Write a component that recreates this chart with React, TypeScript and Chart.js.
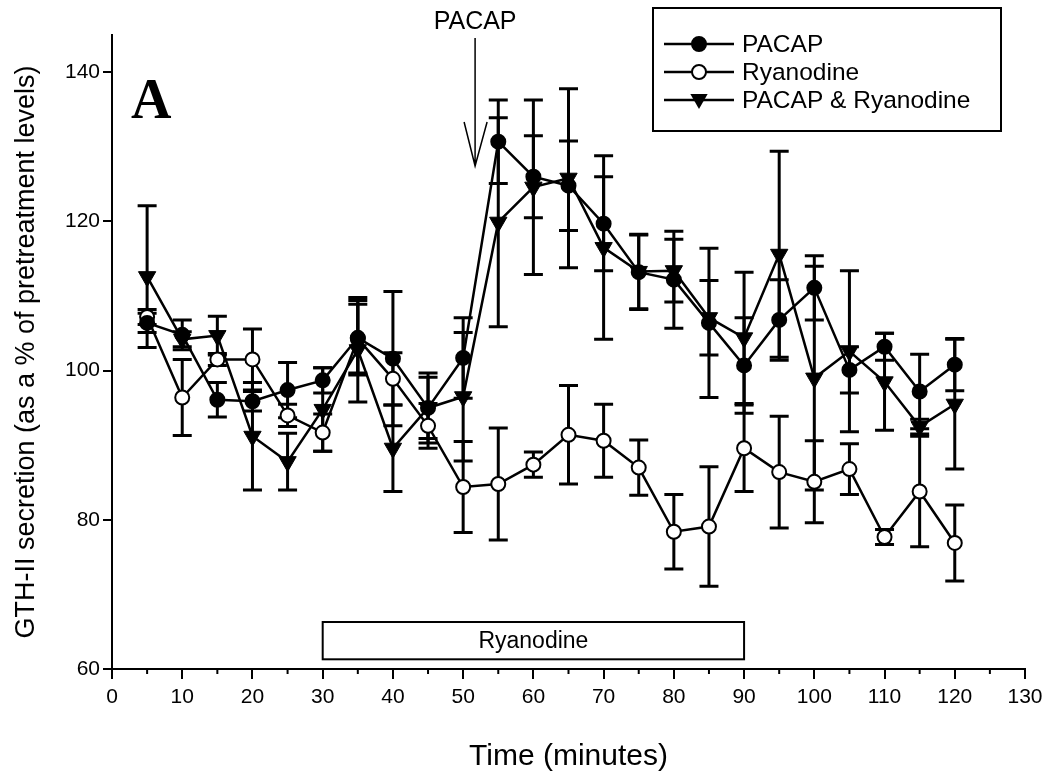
import React, { useEffect, useRef } from 'react';
import { Chart, registerables } from 'chart.js';
Chart.register(...registerables);

const times = [5, 10, 15, 20, 25, 30, 35, 40, 45, 50, 55, 60, 65, 70, 75, 80, 85, 90, 95, 100, 105, 110, 115, 120];
const pacap = [106.4, 104.8, 96.1, 95.9, 97.4, 98.7, 104.4, 101.6, 95.0, 101.7, 130.7, 126.0, 124.8, 119.7, 113.2, 112.2, 106.4, 100.7, 106.8, 111.1, 100.1, 103.2, 97.2, 100.8];
const pacapErr = [1.3, 2.0, 2.3, 1.3, 3.7, 1.7, 5.0, 9.0, 4.7, 5.4, 5.6, 5.5, 6.0, 6.3, 5.0, 6.5, 10.0, 6.4, 5.4, 4.3, 3.1, 1.8, 5.0, 3.5];
const ryanodine = [107.2, 96.4, 101.5, 101.5, 94.0, 91.7, 104.3, 98.9, 92.6, 84.4, 84.8, 87.4, 91.4, 90.6, 87.0, 78.4, 79.1, 89.6, 86.4, 85.1, 86.8, 77.7, 83.8, 76.9];
const ryanodineErr = [1.0, 5.1, 0.8, 4.1, 1.5, 2.5, 4.6, 3.5, 3.0, 6.1, 7.5, 1.7, 6.6, 4.9, 3.7, 5.0, 8.0, 5.8, 7.5, 5.5, 3.4, 1.0, 7.4, 5.1];
const both = [112.6, 104.2, 104.7, 91.2, 87.8, 94.8, 102.8, 89.6, 95.0, 96.5, 119.9, 124.6, 125.8, 116.5, 113.3, 113.4, 107.1, 104.4, 115.6, 99.0, 102.6, 98.5, 92.5, 95.5];
const bothErr = [9.5, 1.0, 2.6, 7.2, 3.8, 5.6, 7.0, 5.8, 4.1, 8.6, 14.0, 11.7, 12.0, 12.3, 5.0, 4.2, 5.0, 8.8, 13.8, 15.0, 10.8, 6.5, 1.0, 8.7];

const seriesNames = ['PACAP', 'Ryanodine', 'PACAP & Ryanodine'];
const xTickValues = [0, 10, 20, 30, 40, 50, 60, 70, 80, 90, 100, 110, 120, 130];
const yTickValues = [60, 80, 100, 120, 140];
const panelLetter = 'A';
const arrowLabel = 'PACAP';
const arrowTime = 51.7;
const ryanodineBar = { label: 'Ryanodine', start: 30, end: 90, low: 61.3, high: 66.3 };

const FONT = '"Liberation Sans", Arial, Helvetica, sans-serif';

export default function App() {
  const ref = useRef<HTMLCanvasElement>(null);

  useEffect(() => {
    const canvas = ref.current;
    if (!canvas) return;

    const toPts = (vals: number[]) => vals.map((v, i) => ({ x: times[i], y: v }));

    const errorBars = {
      id: 'errorBars',
      beforeDatasetsDraw(chart: any) {
        const { ctx } = chart;
        const xs = chart.scales.x;
        const ys = chart.scales.y;
        ctx.save();
        ctx.strokeStyle = '#000';
        ctx.lineWidth = 3;
        chart.data.datasets.forEach((ds: any) => {
          ds.errors.forEach((e: number, i: number) => {
            const p = ds.data[i];
            const px = xs.getPixelForValue(p.x);
            const top = ys.getPixelForValue(p.y + e);
            const bot = ys.getPixelForValue(p.y - e);
            ctx.beginPath();
            ctx.moveTo(px, top);
            ctx.lineTo(px, bot);
            ctx.moveTo(px - 9.5, top);
            ctx.lineTo(px + 9.5, top);
            ctx.moveTo(px - 9.5, bot);
            ctx.lineTo(px + 9.5, bot);
            ctx.stroke();
          });
        });
        ctx.restore();
      },
    };

    const drawMarker = (ctx: CanvasRenderingContext2D, kind: number, x: number, y: number) => {
      ctx.save();
      ctx.strokeStyle = '#000';
      ctx.lineWidth = 2;
      if (kind === 2) {
        const r = 10;
        ctx.beginPath();
        ctx.moveTo(x, y + r);
        ctx.lineTo(x - r * 0.866, y - r * 0.5);
        ctx.lineTo(x + r * 0.866, y - r * 0.5);
        ctx.closePath();
        ctx.fillStyle = '#000';
        ctx.fill();
      } else {
        ctx.beginPath();
        ctx.arc(x, y, 7, 0, Math.PI * 2);
        ctx.fillStyle = kind === 0 ? '#000' : '#fff';
        ctx.fill();
        ctx.stroke();
      }
      ctx.restore();
    };

    const decorations = {
      id: 'decorations',
      afterDraw(chart: any) {
        const { ctx } = chart;
        const xs = chart.scales.x;
        const ys = chart.scales.y;
        const axisY = ys.getPixelForValue(60);
        ctx.save();
        ctx.strokeStyle = '#000';
        ctx.fillStyle = '#000';
        // minor x ticks
        ctx.lineWidth = 2;
        for (let v = 5; v < 130; v += 10) {
          const px = xs.getPixelForValue(v);
          ctx.beginPath();
          ctx.moveTo(px, axisY);
          ctx.lineTo(px, axisY + 5);
          ctx.stroke();
        }
        // panel letter
        ctx.font = 'bold 56px "Liberation Serif", "Times New Roman", serif';
        ctx.textAlign = 'left';
        ctx.textBaseline = 'alphabetic';
        ctx.fillText(panelLetter, 131, 118);
        // arrow
        const ax = xs.getPixelForValue(arrowTime);
        ctx.lineWidth = 1.5;
        ctx.beginPath();
        ctx.moveTo(ax, 38);
        ctx.lineTo(ax, 166);
        ctx.moveTo(ax - 11, 122);
        ctx.lineTo(ax, 166);
        ctx.lineTo(ax + 12, 122);
        ctx.stroke();
        ctx.font = `25px ${FONT}`;
        ctx.textAlign = 'center';
        ctx.textBaseline = 'middle';
        ctx.fillText(arrowLabel, ax, 22);
        // ryanodine bar
        const bx0 = xs.getPixelForValue(ryanodineBar.start);
        const bx1 = xs.getPixelForValue(ryanodineBar.end);
        const by0 = ys.getPixelForValue(ryanodineBar.high);
        const by1 = ys.getPixelForValue(ryanodineBar.low);
        ctx.lineWidth = 2;
        ctx.strokeRect(bx0, by0, bx1 - bx0, by1 - by0);
        ctx.font = `23px ${FONT}`;
        ctx.fillText(ryanodineBar.label, (bx0 + bx1) / 2, (by0 + by1) / 2 + 1);
        // legend
        const lx0 = 653, ly0 = 8, lx1 = 1001, ly1 = 131;
        ctx.lineWidth = 2;
        ctx.strokeRect(lx0, ly0, lx1 - lx0, ly1 - ly0);
        ctx.font = `24.5px ${FONT}`;
        ctx.textAlign = 'left';
        ctx.textBaseline = 'middle';
        seriesNames.forEach((name, i) => {
          const ry = 44 + i * 28;
          ctx.lineWidth = 2.5;
          ctx.beginPath();
          ctx.moveTo(664, ry);
          ctx.lineTo(734, ry);
          ctx.stroke();
          drawMarker(ctx, i, 699, i === 2 ? ry - 1 : ry);
          ctx.fillText(name, 742, ry + 1);
        });
        ctx.restore();
      },
    };

    const chart = new Chart(canvas, {
      type: 'line',
      data: {
        datasets: [
          {
            label: seriesNames[0],
            data: toPts(pacap),
            errors: pacapErr,
            borderColor: '#000',
            borderWidth: 2.5,
            pointStyle: 'circle',
            pointRadius: 7,
            pointBackgroundColor: '#000',
            pointBorderColor: '#000',
            pointBorderWidth: 2,
          } as any,
          {
            label: seriesNames[1],
            data: toPts(ryanodine),
            errors: ryanodineErr,
            borderColor: '#000',
            borderWidth: 2.5,
            pointStyle: 'circle',
            pointRadius: 7,
            pointBackgroundColor: '#fff',
            pointBorderColor: '#000',
            pointBorderWidth: 2,
          } as any,
          {
            label: seriesNames[2],
            data: toPts(both),
            errors: bothErr,
            borderColor: '#000',
            borderWidth: 2.5,
            pointStyle: 'triangle',
            pointRotation: 180,
            pointRadius: 10,
            pointBackgroundColor: '#000',
            pointBorderColor: '#000',
            pointBorderWidth: 1,
          } as any,
        ],
      },
      options: {
        responsive: false,
        animation: false,
        devicePixelRatio: 1,
        layout: { padding: { left: 0, right: 30, top: 35, bottom: 0 } },
        plugins: { legend: { display: false }, tooltip: { enabled: false } },
        scales: {
          x: {
            type: 'linear',
            min: 0,
            max: 130,
            afterFit: (s: any) => { s.height = 112; },
            afterBuildTicks: (s: any) => { s.ticks = xTickValues.map((v) => ({ value: v })); },
            ticks: {
              autoSkip: false,
              maxRotation: 0,
              padding: 6,
              color: '#000',
              font: { family: FONT, size: 21 },
            },
            grid: { drawOnChartArea: false, color: '#000', lineWidth: 2, tickLength: 10 },
            border: { color: '#000', width: 2 },
            title: {
              display: true,
              text: 'Time (minutes)',
              color: '#000',
              font: { family: FONT, size: 30 },
              padding: { top: 0, bottom: 6 },
            },
          },
          y: {
            type: 'linear',
            min: 60,
            max: 145,
            afterFit: (s: any) => { s.width = 112; },
            afterBuildTicks: (s: any) => { s.ticks = yTickValues.map((v) => ({ value: v })); },
            ticks: {
              padding: 3,
              color: '#000',
              font: { family: FONT, size: 21 },
            },
            grid: { drawOnChartArea: false, color: '#000', lineWidth: 2, tickLength: 9 },
            border: { color: '#000', width: 2 },
            title: {
              display: true,
              text: 'GTH-II secretion (as a % of pretreatment levels)',
              color: '#000',
              font: { family: FONT, size: 27 },
              padding: { top: 10, bottom: 0 },
            },
          },
        },
      },
      plugins: [errorBars, decorations],
    });

    return () => chart.destroy();
  }, []);

  return (
    <div style={{ position: 'fixed', left: 0, top: 0, width: 1055, height: 781, background: '#fff' }}>
      <canvas ref={ref} width={1055} height={781} style={{ display: 'block' }} />
    </div>
  );
}
